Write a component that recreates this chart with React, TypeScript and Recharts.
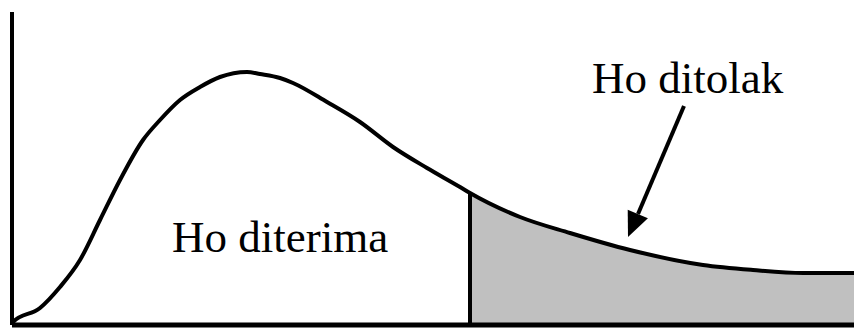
import React from "react";
import {
  ComposedChart,
  Line,
  Area,
  XAxis,
  YAxis,
  ReferenceLine,
  ReferenceDot,
} from "recharts";

// x positions along the test statistic axis (arbitrary units)
const xValues = [0, 1, 28, 48, 68, 88, 108, 131, 148, 168, 188, 208, 235, 248, 268, 281, 315, 348, 381, 415, 448, 458, 508, 558, 618, 691, 741, 791, 842];
// density curve heights
const densityValues = [0, 3, 17, 38, 65, 105, 145, 185, 205, 225, 238, 248, 253, 251, 247, 242, 223, 203, 178, 157, 138, 132, 108, 92, 75, 60, 55, 52, 52];
// critical value separating accept / reject regions
const criticalX = 458;
const acceptLabel = "Ho diterima";
const rejectLabel = "Ho ditolak";

const data = xValues.map((x, i) => ({
  x,
  density: densityValues[i],
  reject: x >= criticalX ? densityValues[i] : null,
}));
const criticalY = densityValues[xValues.indexOf(criticalX)];

const FONT = "'Liberation Serif', 'Times New Roman', serif";

const textShape = (label: string) => (props: any) => (
  <text x={props.cx} y={props.cy} fontFamily={FONT} fontSize={45} fill="#000">
    {label}
  </text>
);

const arrowHead = (props: any) => {
  const { cx, cy } = props;
  // direction from tail to tip
  const dx = -0.393;
  const dy = 0.919;
  const len = 25;
  const half = 11;
  const bx = cx - dx * len;
  const by = cy - dy * len;
  const px = -dy;
  const py = dx;
  const pts = `${cx},${cy} ${bx + px * half},${by + py * half} ${bx - px * half},${by - py * half}`;
  return <polygon points={pts} fill="#000" />;
};

export default function App() {
  return (
    <div style={{ position: "absolute", left: 0, top: 0, width: 854, height: 329, background: "#fff" }}>
      <ComposedChart
        width={854}
        height={329}
        data={data}
        margin={{ top: 12, right: 0, bottom: 4, left: 12 }}
      >
        <XAxis type="number" dataKey="x" domain={[0, 842]} hide />
        <YAxis type="number" domain={[0, 313]} hide />
        <Area
          type="monotone"
          dataKey="reject"
          fill="#c0c0c0"
          fillOpacity={1}
          stroke="none"
          isAnimationActive={false}
          connectNulls={false}
        />
        <ReferenceLine
          segment={[{ x: criticalX, y: 0 }, { x: criticalX, y: criticalY }]}
          stroke="#000"
          strokeWidth={4}
        />
        <Line
          type="monotone"
          dataKey="density"
          stroke="#000"
          strokeWidth={4}
          dot={false}
          isAnimationActive={false}
        />
        <ReferenceLine x={0} stroke="#000" strokeWidth={4} />
        <ReferenceLine y={0} stroke="#000" strokeWidth={5} />
        <ReferenceLine
          segment={[{ x: 672, y: 219 }, { x: 626, y: 111 }]}
          stroke="#000"
          strokeWidth={4}
        />
        <ReferenceDot x={616} y={88} r={0} shape={arrowHead} />
        <ReferenceDot x={160} y={73} r={0} shape={textShape(acceptLabel)} />
        <ReferenceDot x={580} y={232} r={0} shape={textShape(rejectLabel)} />
      </ComposedChart>
    </div>
  );
}
